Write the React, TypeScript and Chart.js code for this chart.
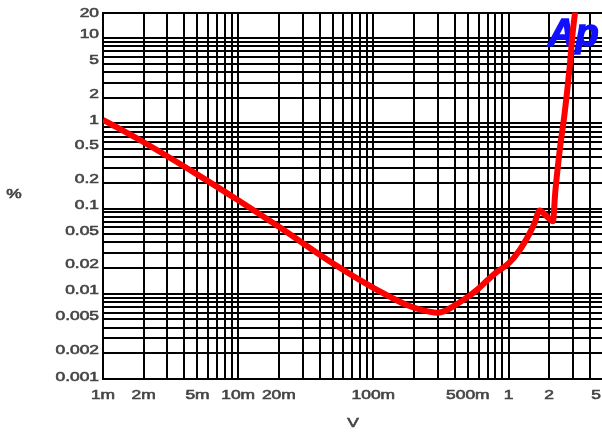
import React, { useEffect, useRef } from 'react';
import { Chart, registerables } from 'chart.js';

Chart.register(...registerables);

// Series: THD+N (%) vs amplitude (V)
const VOLTAGE = [0.001, 0.002, 0.005, 0.01, 0.02, 0.05, 0.1, 0.133, 0.177, 0.233, 0.295, 0.34, 0.388, 0.5, 0.6, 0.7, 0.8, 1.0, 1.2, 1.43, 1.56, 1.7, 1.9, 2.13, 2.22, 2.39, 2.6, 2.83, 2.98, 3.15];
const THD = [1.1, 0.6, 0.25, 0.125, 0.061, 0.0228, 0.0117, 0.0092, 0.0074, 0.0064, 0.006, 0.0063, 0.0071, 0.0092, 0.0115, 0.0145, 0.0175, 0.0227, 0.032, 0.051, 0.068, 0.095, 0.082, 0.071, 0.16, 0.48, 1.31, 4.5, 11.4, 24];

const X_MIN = 0.001;
const X_MAX = 5;
const Y_MIN = 0.001;
const Y_MAX = 20;

const X_TICK_VALUES = [0.001, 0.002, 0.005, 0.01, 0.02, 0.1, 0.5, 1, 2, 5];
const X_TICK_LABELS = ['1m', '2m', '5m', '10m', '20m', '100m', '500m', '1', '2', '5'];
const Y_TICK_VALUES = [20, 10, 5, 2, 1, 0.5, 0.2, 0.1, 0.05, 0.02, 0.01, 0.005, 0.002, 0.001];
const Y_TICK_LABELS = ['20', '10', '5', '2', '1', '0.5', '0.2', '0.1', '0.05', '0.02', '0.01', '0.005', '0.002', '0.001'];

const X_TITLE = 'V';
const Y_TITLE = '%';
const LOGO = 'Ap';

const TEXT_COLOR = '#444444';
const FONT = '12px "Liberation Sans", Arial, sans-serif';
const SX = 1.45;

function logGrid(min: number, max: number): number[] {
  const out: number[] = [];
  const k0 = Math.floor(Math.log10(min));
  const k1 = Math.ceil(Math.log10(max));
  for (let k = k0; k <= k1; k++) {
    for (let m = 1; m <= 9; m++) {
      const v = parseFloat((m * Math.pow(10, k)).toPrecision(4));
      if (v >= min * 0.9999 && v <= max * 1.0001) out.push(v);
    }
  }
  return out;
}

function stretchedText(ctx: CanvasRenderingContext2D, text: string, x: number, y: number, align: CanvasTextAlign) {
  ctx.save();
  ctx.translate(x, y);
  ctx.scale(SX, 1);
  ctx.textAlign = align;
  ctx.textBaseline = 'middle';
  ctx.lineWidth = 0.55;
  ctx.strokeText(text, 0, 0);
  ctx.fillText(text, 0, 0);
  ctx.restore();
}

const textPlugin = {
  id: 'apText',
  beforeDatasetsDraw(chart: any) {
    const ctx: CanvasRenderingContext2D = chart.ctx;
    const area = chart.chartArea;
    ctx.save();
    ctx.font = 'italic bold 38px "Liberation Sans", Arial, sans-serif';
    ctx.fillStyle = '#1010ff';
    ctx.strokeStyle = '#1010ff';
    ctx.lineWidth = 1.5;
    ctx.textAlign = 'left';
    ctx.textBaseline = 'alphabetic';
    ctx.strokeText(LOGO, area.right - 55, area.top + 33);
    ctx.fillText(LOGO, area.right - 55, area.top + 33);
    ctx.restore();
  },
  afterDraw(chart: any) {
    const ctx: CanvasRenderingContext2D = chart.ctx;
    const xs = chart.scales.x;
    const ys = chart.scales.y;
    const area = chart.chartArea;
    ctx.save();
    ctx.font = FONT;
    ctx.fillStyle = TEXT_COLOR;
    ctx.strokeStyle = TEXT_COLOR;
    Y_TICK_VALUES.forEach((v, i) => {
      let py = ys.getPixelForValue(v) - 3;
      if (i === 0) py = area.top + 1;
      if (i === Y_TICK_VALUES.length - 1) py = area.bottom - 1;
      stretchedText(ctx, Y_TICK_LABELS[i], area.left - 4, py, 'right');
    });
    X_TICK_VALUES.forEach((v, i) => {
      let px = xs.getPixelForValue(v);
      const w = ctx.measureText(X_TICK_LABELS[i]).width * SX;
      if (px + w / 2 > 601) px = 601 - w / 2;
      stretchedText(ctx, X_TICK_LABELS[i], px, area.bottom + 17, 'center');
    });
    stretchedText(ctx, X_TITLE, (area.left + area.right) / 2, area.bottom + 45, 'center');
    stretchedText(ctx, Y_TITLE, 14, (area.top + area.bottom) / 2 - 1, 'center');
    ctx.restore();
  },
};

export default function App() {
  const canvasRef = useRef<HTMLCanvasElement | null>(null);

  useEffect(() => {
    const canvas = canvasRef.current;
    if (!canvas) return;
    const data = VOLTAGE.map((v, i) => ({ x: v, y: THD[i] }));
    const chart = new Chart(canvas, {
      type: 'line',
      data: {
        datasets: [
          {
            data,
            borderColor: '#ff0000',
            backgroundColor: '#ff0000',
            borderWidth: 6,
            pointRadius: 0,
            cubicInterpolationMode: 'monotone',
            fill: false,
          },
        ],
      },
      options: {
        responsive: false,
        animation: false,
        events: [],
        layout: { padding: { left: 0, right: 17, top: 12.5, bottom: 0 } },
        plugins: { legend: { display: false }, tooltip: { enabled: false }, title: { display: false } },
        scales: {
          x: {
            type: 'logarithmic',
            min: X_MIN,
            max: X_MAX,
            afterBuildTicks: (s: any) => {
              s.ticks = logGrid(X_MIN, X_MAX).map((v) => ({ value: v }));
            },
            afterFit: (s: any) => {
              s.height = 56;
            },
            ticks: { display: false },
            grid: { color: '#000000', lineWidth: 2, drawTicks: false },
            border: { color: '#000000', width: 2 },
          },
          y: {
            type: 'logarithmic',
            min: Y_MIN,
            max: Y_MAX,
            afterBuildTicks: (s: any) => {
              s.ticks = logGrid(Y_MIN, Y_MAX).map((v) => ({ value: v }));
            },
            afterFit: (s: any) => {
              s.width = 103;
            },
            ticks: { display: false },
            grid: { color: '#000000', lineWidth: 2, drawTicks: false },
            border: { color: '#000000', width: 2 },
          },
        },
      },
      plugins: [textPlugin],
    } as any);
    return () => chart.destroy();
  }, []);

  return (
    <div style={{ position: 'fixed', left: 0, top: 0, width: 602, height: 435, overflow: 'hidden', background: '#ffffff' }}>
      <canvas ref={canvasRef} width={620} height={435} style={{ display: 'block', width: 620, height: 435 }} />
    </div>
  );
}
